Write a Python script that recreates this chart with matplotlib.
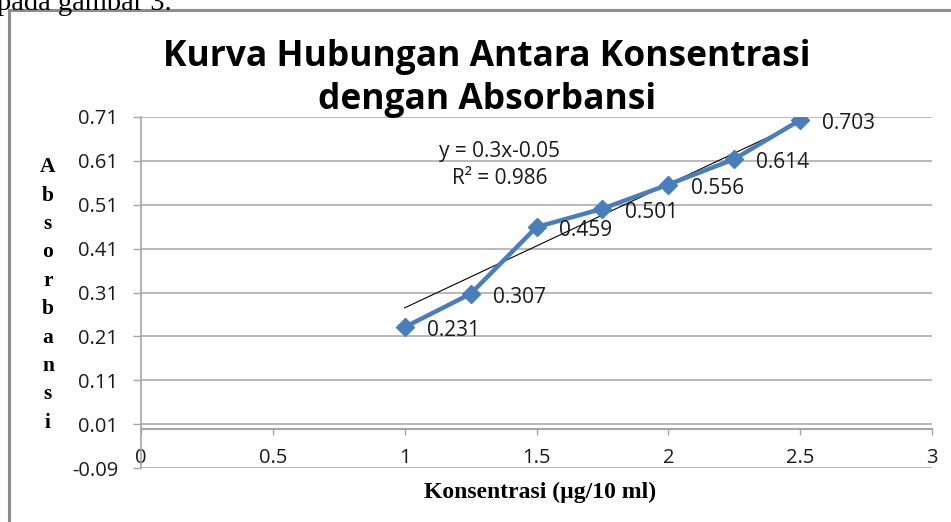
import numpy as np
import matplotlib
matplotlib.use("Agg")
import matplotlib.pyplot as plt
from matplotlib.patches import Rectangle

# ---- data ----
konsentrasi = [1.0, 1.25, 1.5, 1.75, 2.0, 2.25, 2.5]
absorbansi = [0.231, 0.307, 0.459, 0.501, 0.556, 0.614, 0.703]
point_labels = ["0.231", "0.307", "0.459", "0.501", "0.556", "0.614", "0.703"]
trend_x = [1.0, 2.5]
trend_y = [0.275, 0.698]
yticks = [-0.09, 0.01, 0.11, 0.21, 0.31, 0.41, 0.51, 0.61, 0.71]
xticks = [0, 0.5, 1, 1.5, 2, 2.5, 3]
xtick_labels = ["0", "0.5", "1", "1.5", "2", "2.5", "3"]
title_line1 = "Kurva Hubungan Antara Konsentrasi"
title_line2 = "dengan Absorbansi"
xlabel = "Konsentrasi (µg/10 ml)"
ylabel = "Absorbansi"
eq_text = "y = 0.3x-0.05"
r2_text = "R² = 0.986"

W, H = 951, 522
fig = plt.figure(figsize=(W / 100, H / 100), dpi=100)
fig.patch.set_facecolor("white")

def fx(px):
    return px / W

def fy(py):
    return 1 - py / H

sans = ["Open Sans", "DejaVu Sans"]
serif = ["Liberation Serif", "DejaVu Serif"]
grid_c = "#a6a6a6"
text_c = "#1a1a1a"

# border of the chart object
fig.patches.append(Rectangle((fx(9), fy(600)), fx(1200), fy(10) - fy(600),
                             transform=fig.transFigure, fill=False,
                             edgecolor="#8c8c8c", linewidth=2.2))
# leftover document text at the top (cut by the page edge, as in the source)
fig.text(fx(-3), fy(10), "pada gambar 3.", family=serif, fontsize=20.5,
         ha="left", va="baseline", color="black")

ax = fig.add_axes([fx(141), fy(468), fx(932) - fx(141), fy(117) - fy(468)])
ax.set_xlim(0, 3)
ax.set_ylim(-0.09, 0.71)

for s in ["top", "right"]:
    ax.spines[s].set_visible(False)
ax.spines["left"].set_color(grid_c)
ax.spines["left"].set_linewidth(1.2)
ax.spines["bottom"].set_position(("data", 0))
ax.spines["bottom"].set_color(grid_c)
ax.spines["bottom"].set_linewidth(1.5)

ax.set_yticks(yticks)
ax.set_yticklabels([f"{v:.2f}" for v in yticks], family=sans, fontsize=14.5, color=text_c)
ax.set_xticks(xticks)
ax.set_xticklabels(xtick_labels, family=sans, fontsize=14.5, color=text_c)
ax.tick_params(axis="y", length=6, width=1, color=grid_c, pad=10.5, direction="out")
ax.tick_params(axis="x", length=4, width=1, color=grid_c, pad=10, direction="out")
ax.yaxis.grid(True, color=grid_c, linewidth=1.1)
ax.set_axisbelow(True)

# trendline
ax.plot(trend_x, trend_y, color="black", linewidth=0.8, zorder=3)

ax.plot(konsentrasi, absorbansi, color="#4a7ebb", linewidth=3.2, marker="D",
        markersize=9.5, zorder=4)

for xv, yv, lab in zip(konsentrasi, absorbansi, point_labels):
    ax.annotate(lab, (xv, yv), xytext=(16, -2.5), textcoords="offset points",
                ha="left", va="center", family=sans, fontsize=15, color=text_c,
                zorder=5)

fig.text(fx(500), fy(151), eq_text, family=sans, fontsize=15, ha="center",
         va="center", color=text_c)
fig.text(fx(500), fy(178), r2_text, family=sans, fontsize=15, ha="center",
         va="center", color=text_c)

fig.text(fx(487), fy(57), title_line1, family=sans,
         fontsize=25.5, fontweight="bold", ha="center", va="center", color="black")
fig.text(fx(487), fy(100), title_line2, family=sans,
         fontsize=25.5, fontweight="bold", ha="center", va="center", color="black")

fig.text(fx(48), fy(295), "\n".join(ylabel), family=serif, fontsize=15.5,
         fontweight="bold", ha="center", va="center", linespacing=1.56)
fig.text(fx(540), fy(492), xlabel, family=serif, fontsize=17, fontweight="bold",
         ha="center", va="center")

fig.savefig("out.png", dpi=100)
